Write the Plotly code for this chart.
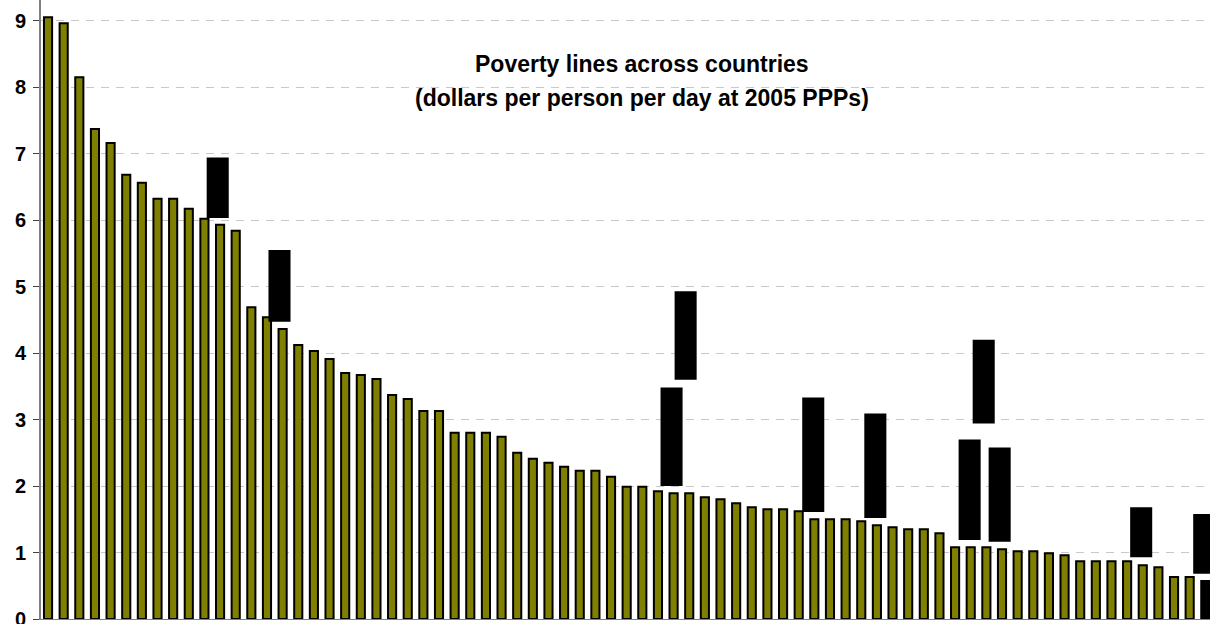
import plotly.graph_objects as go

# ---- data ----
country_rank = list(range(1, 76))
poverty_line = [
    9.05, 8.96, 8.15, 7.37, 7.16, 6.68, 6.56, 6.32, 6.32, 6.17,
    6.02, 5.93, 5.84, 4.69, 4.54, 4.36, 4.12, 4.03, 3.91, 3.70,
    3.67, 3.61, 3.37, 3.31, 3.13, 3.13, 2.80, 2.80, 2.80, 2.74,
    2.50, 2.41, 2.35, 2.29, 2.23, 2.23, 2.14, 1.99, 1.99, 1.92,
    1.89, 1.89, 1.83, 1.80, 1.74, 1.68, 1.65, 1.65, 1.62, 1.50,
    1.50, 1.50, 1.47, 1.41, 1.38, 1.35, 1.35, 1.29, 1.08, 1.08,
    1.08, 1.05, 1.02, 1.02, 0.99, 0.96, 0.87, 0.87, 0.87, 0.87,
    0.81, 0.78, 0.63, 0.63, 0.57,
]
# ranges (low/high) shown as black blocks, with their position on the x axis
range_x = [11.85, 15.8, 40.87, 41.77, 49.93, 53.9, 59.93, 60.83, 61.85, 70.9, 74.93]
range_low = [6.03, 4.47, 2.00, 3.60, 1.61, 1.52, 1.19, 2.94, 1.16, 0.93, 0.68]
range_high = [6.94, 5.55, 3.48, 4.93, 3.33, 3.09, 2.70, 4.20, 2.58, 1.68, 1.58]
y_ticks = [0, 1, 2, 3, 4, 5, 6, 7, 8, 9]
title_line1 = "Poverty lines across countries"
title_line2 = "(dollars per person per day at 2005 PPPs)"

OLIVE = "#808000"
BLACK = "#000000"
bar_colors = [OLIVE] * (len(poverty_line) - 1) + [BLACK]

fig = go.Figure()
fig.add_trace(go.Bar(
    x=country_rank, y=poverty_line, width=0.52,
    marker=dict(color=bar_colors, line=dict(color=BLACK, width=2)),
    showlegend=False, hoverinfo="skip",
))
fig.add_trace(go.Bar(
    x=range_x, base=range_low,
    y=[h - l for h, l in zip(range_high, range_low)],
    width=1.41,
    marker=dict(color=BLACK, line=dict(width=0)),
    showlegend=False, hoverinfo="skip",
))

FONT = "Liberation Sans, Arial, sans-serif"
fig.update_layout(
    width=1210, height=624,
    margin=dict(l=41, r=0, t=0, b=5, autoexpand=False),
    paper_bgcolor="white", plot_bgcolor="white",
    barmode="overlay",
    xaxis=dict(range=[0.55, 75.3], showticklabels=False, showgrid=False,
               zeroline=False, showline=True, linecolor="#808080", linewidth=1,
               ticks="", automargin=False),
    yaxis=dict(range=[0, 9.31], tickvals=y_ticks, ticktext=[str(v) for v in y_ticks],
               showgrid=True, gridcolor="#c8c8c8", griddash="8px,7px", gridwidth=1,
               zeroline=False, showline=True, linecolor="#808080", linewidth=2,
               ticks="outside", ticklen=6, tickcolor="#404040", tickwidth=1,
               ticklabelstandoff=3, ticklabeloverflow="allow", automargin=False,
               tickfont=dict(family=FONT, size=20, color="black", weight="bold")),
    annotations=[
        dict(text=title_line1, xref="paper", yref="paper", x=0.514, y=1 - 64 / 619,
             xanchor="center", yanchor="middle", showarrow=False,
             font=dict(family=FONT, size=23, color="black", weight="bold")),
        dict(text=title_line2, xref="paper", yref="paper", x=0.514, y=1 - 98 / 619,
             xanchor="center", yanchor="middle", showarrow=False,
             font=dict(family=FONT, size=23, color="black", weight="bold")),
    ],
)

fig.write_html(
    "out.html",
    config={"displayModeBar": False},
    post_script="document.body.style.margin='0';document.body.style.overflow='hidden';",
)
